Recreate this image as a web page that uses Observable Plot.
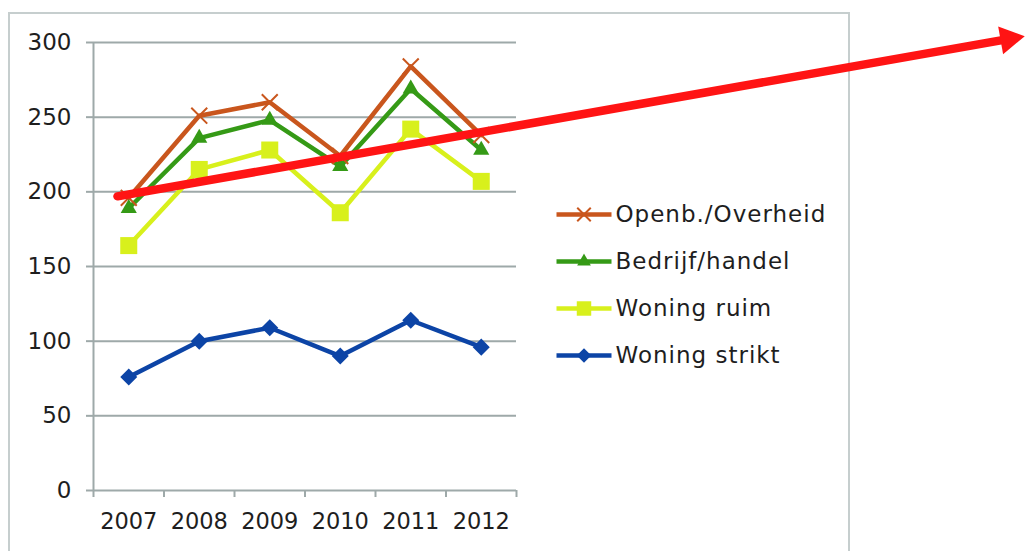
<!DOCTYPE html>
<html><head><meta charset="utf-8">
<script src="https://cdn.jsdelivr.net/npm/d3@7"></script>
<script src="https://cdn.jsdelivr.net/npm/@observablehq/plot@0.6"></script>
<style>
body{margin:0;background:#fff;}
#wrap{position:relative;width:1026px;height:551px;overflow:hidden;font-family:"DejaVu Sans",sans-serif;}
#frame{position:absolute;left:8px;top:12px;width:838px;height:580px;border:2px solid #c6cece;}
#chart{position:absolute;left:0;top:0;}
#legend{position:absolute;left:540px;top:180px;}
#legend text{letter-spacing:1px;}
</style></head><body><div id="wrap"><div id="frame"></div><div id="chart"></div><div id="legend"></div></div>
<script>
const years = [2007, 2008, 2009, 2010, 2011, 2012];
const seriesNames = ["Openb./Overheid", "Bedrijf/handel", "Woning ruim", "Woning strikt"];
const openbOverheid = [196, 251, 260, 224, 284, 238];
const bedrijfHandel = [189, 236, 248, 217, 269, 228];
const woningRuim = [164, 215, 228, 186, 242, 207];
const woningStrikt = [76, 100, 109, 90, 114, 96];
const yTicks = [0, 50, 100, 150, 200, 250, 300];
const seriesColors = ["#c9561d", "#359a16", "#d8f01c", "#0c44a6"];
const trendArrow = [{x1: 2006.84, y1: 197, x2: 2019.68, y2: 304}];

const valuesBySeries = [openbOverheid, bedrijfHandel, woningRuim, woningStrikt];
const rows = [];
seriesNames.forEach((s, i) => years.forEach((yr, j) => rows.push({series: s, year: yr, value: valuesBySeries[i][j]})));
const drawOrder = [...seriesNames].reverse();
const bounds = years.map(y => y - 0.5).concat([years[years.length - 1] + 0.5]);
const gridColor = "#9ea9a9";
const textColor = "#1e1e1e";
const arrowColor = "#ff1414";

const symbolFor = {
  "Openb./Overheid": {symbol: "times", r: 7.3, stroke: true, rotate: 0},
  "Bedrijf/handel": {symbol: "triangle", r: 6, stroke: false, rotate: 0},
  "Woning ruim": {symbol: "square", r: 9.6, stroke: false, rotate: 0},
  "Woning strikt": {symbol: "square", r: 6.8, stroke: false, rotate: 45}
};

function dotMarks(data, xAcc, yAcc, scaleFactor) {
  return drawOrder.map(s => {
    const o = symbolFor[s];
    const subset = data.filter(d => d.series === s);
    const opts = {x: xAcc, y: yAcc, symbol: () => o.symbol, r: o.r * scaleFactor, rotate: o.rotate};
    if (o.stroke) { opts.stroke = "series"; opts.strokeWidth = 2; opts.fill = "none"; }
    else { opts.fill = "series"; opts.stroke = "none"; }
    return Plot.dot(subset, opts);
  });
}

const chart = Plot.plot({
  width: 1026, height: 551,
  marginLeft: 93, marginRight: 510, marginTop: 42, marginBottom: 61,
  style: {fontFamily: "DejaVu Sans, sans-serif", fontSize: "23px", color: textColor, background: "transparent"},
  x: {type: "linear", domain: [bounds[0], bounds[bounds.length - 1]]},
  y: {domain: [0, 300]},
  color: {domain: seriesNames, range: seriesColors},
  marks: [
    Plot.gridY(yTicks, {stroke: gridColor, strokeOpacity: 1, strokeWidth: 2}),
    Plot.axisY(yTicks, {tickSize: 7, tickPadding: 15, stroke: gridColor, strokeWidth: 2, fill: textColor, fontSize: 23, label: null}),
    Plot.ruleX([bounds[0]], {y1: 0, y2: 300, stroke: gridColor, strokeWidth: 2}),
    Plot.axisX(bounds, {tickSize: 7, tickFormat: () => "", stroke: gridColor, strokeWidth: 2, label: null}),
    Plot.axisX(years, {tickSize: 0, tickPadding: 23, tickFormat: d => String(d), fill: textColor, fontSize: 22.5, label: null}),
    ...drawOrder.map(s => Plot.line(rows.filter(d => d.series === s), {x: "year", y: "value", stroke: "series", strokeWidth: 4.5})),
    ...dotMarks(rows, "year", "value", 1),
    Plot.arrow(trendArrow, {x1: "x1", y1: "y1", x2: "x2", y2: "y2", stroke: arrowColor, strokeWidth: 8.5, headLength: 0, insetEnd: 15}),
    Plot.dot(trendArrow, {x: "x2", y: "y2", symbol: "triangle", r: 10.5, fill: arrowColor, stroke: "none", rotate: 80, dx: -14, dy: 2.5})
  ]
});
document.getElementById("chart").appendChild(chart);

const legendRows = seriesNames.map(s => ({series: s}));
const legend = Plot.plot({
  width: 320, height: 200, margin: 0,
  style: {fontFamily: "DejaVu Sans, sans-serif", fontSize: "23px", color: textColor, background: "transparent"},
  x: {type: "linear", domain: [0, 1], range: [16, 71], axis: null},
  y: {type: "point", domain: seriesNames, range: [33, 175], padding: 0, axis: null},
  color: {domain: seriesNames, range: seriesColors},
  marks: [
    Plot.link(legendRows, {x1: () => 0, x2: () => 1, y1: "series", y2: "series", stroke: "series", strokeWidth: 4.5}),
    ...dotMarks(legendRows.map(d => ({...d, pos: 0.5})), "pos", "series", 0.85),
    Plot.text(legendRows, {x: () => 1, y: "series", text: "series", textAnchor: "start", dx: 4, fill: textColor, fontSize: 23})
  ]
});
document.getElementById("legend").appendChild(legend);
</script></body></html>
